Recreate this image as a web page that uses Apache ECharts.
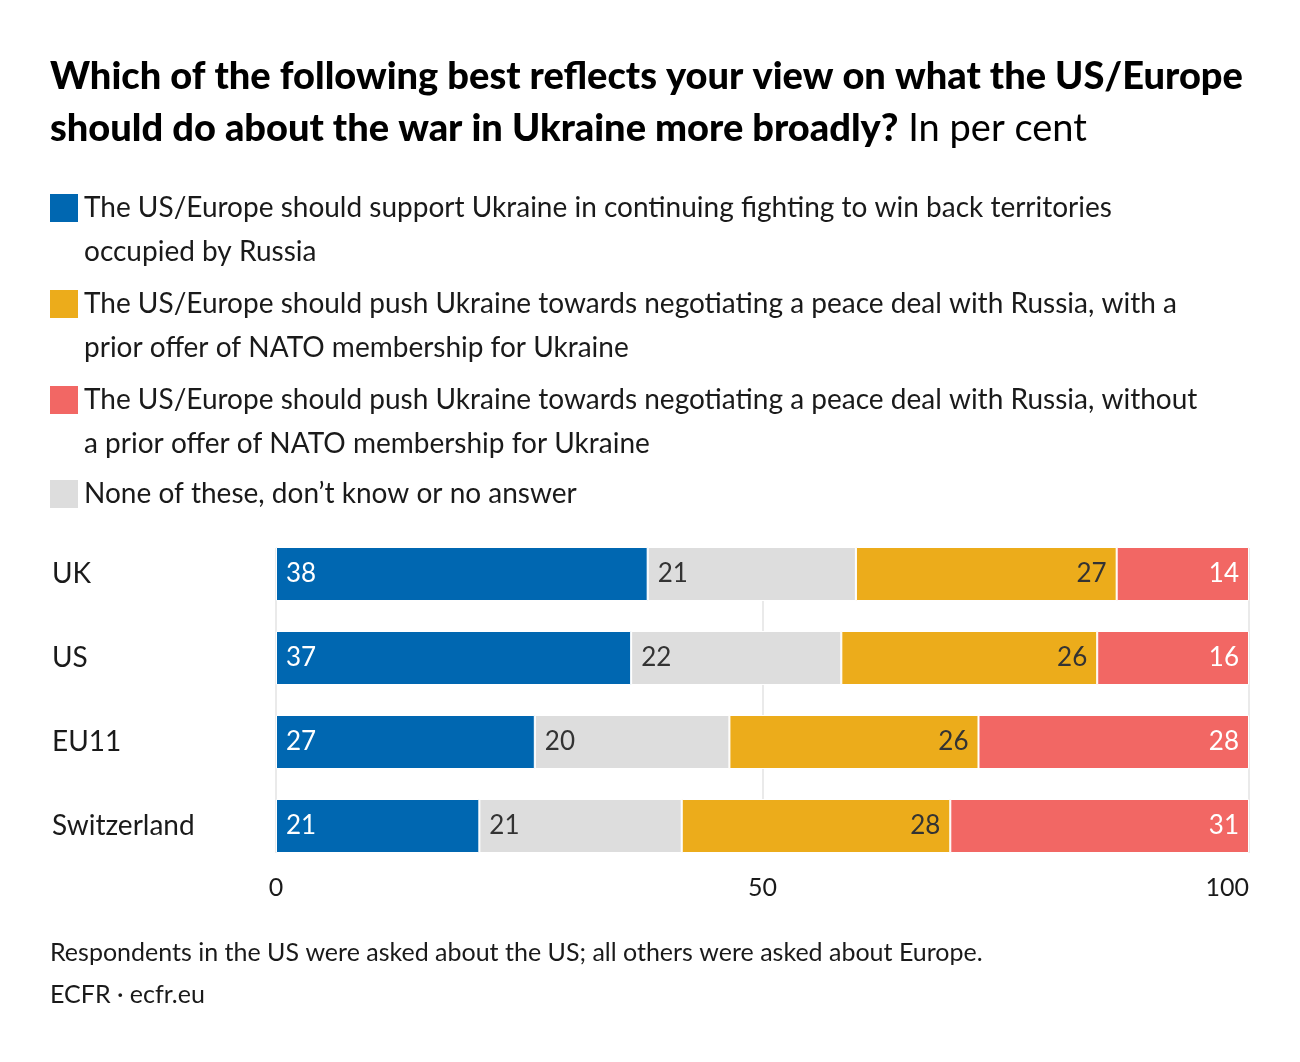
<!DOCTYPE html>
<html>
<head>
<meta charset="utf-8">
<script src="https://cdn.jsdelivr.net/npm/echarts@6/dist/echarts.min.js"></script>
<style>
  html, body { margin: 0; padding: 0; background: #fff; }
  #chart { width: 1300px; height: 1062px; }
</style>
</head>
<body>
<div id="chart"></div>
<script>
// ---- Data ----
const categories = ['UK', 'US', 'EU11', 'Switzerland'];
const seriesNames = [
  'The US/Europe should support Ukraine in continuing fighting to win back territories occupied by Russia',
  'None of these, don\u2019t know or no answer',
  'The US/Europe should push Ukraine towards negotiating a peace deal with Russia, with a prior offer of NATO membership for Ukraine',
  'The US/Europe should push Ukraine towards negotiating a peace deal with Russia, without a prior offer of NATO membership for Ukraine'
];
const supportUkraine = [38.2, 36.5, 26.6, 20.9];
const noneOfThese = [21.4, 21.6, 20.0, 20.8];
const peaceWithNato = [26.8, 26.3, 25.6, 27.6];
const peaceWithoutNato = [13.6, 15.6, 27.8, 30.7];
const xTicks = [0, 50, 100];

// legend lines (in display order)
const legendLines = [
  ['The US/Europe should support Ukraine in continuing fighting to win back territories', 'occupied by Russia'],
  ['The US/Europe should push Ukraine towards negotiating a peace deal with Russia, with a', 'prior offer of NATO membership for Ukraine'],
  ['The US/Europe should push Ukraine towards negotiating a peace deal with Russia, without', 'a prior offer of NATO membership for Ukraine'],
  ['None of these, don\u2019t know or no answer']
];

// ---- Styles ----
const FONT = 'Lato, "Noto Sans", sans-serif';
const COLORS = { blue: '#0067b1', grey: '#dddddd', yellow: '#ecac1b', red: '#f26764' };
const legendColors = [COLORS.blue, COLORS.yellow, COLORS.red, COLORS.grey];
const legendTops = [208, 304, 400, 494];
const TEXT = '#1a1a1a';

const chart = echarts.init(document.getElementById('chart'), null, { renderer: 'canvas' });

const fmt = p => String(Math.round(p.value));

function barSeries(name, data, color, pos, labelColor) {
  return {
    name: name,
    type: 'bar',
    stack: 'total',
    data: data,
    barWidth: 54,
    itemStyle: { color: color, borderColor: '#ffffff', borderWidth: 1 },
    label: {
      show: true,
      position: pos,
      distance: 10,
      formatter: fmt,
      color: labelColor,
      fontFamily: FONT,
      fontSize: 26
    },
    emphasis: { disabled: true }
  };
}

const graphics = [];
legendLines.forEach((lines, i) => {
  graphics.push({
    type: 'rect',
    left: 50,
    top: legendTops[i] - 14,
    shape: { width: 28, height: 28 },
    style: { fill: legendColors[i] }
  });
  lines.forEach((ln, j) => {
    graphics.push({
      type: 'text',
      left: 84,
      top: legendTops[i] + j * 44 - 14,
      style: { text: ln, font: '28px ' + FONT, fill: TEXT }
    });
  });
});
graphics.push({
  type: 'text', left: 50, top: 940,
  style: { text: 'Respondents in the US were asked about the US; all others were asked about Europe.', font: '25px ' + FONT, fill: TEXT }
});
graphics.push({
  type: 'text', left: 50, top: 982,
  style: { text: 'ECFR \u00b7 ecfr.eu', font: '25px ' + FONT, fill: TEXT }
});

const option = {
  backgroundColor: '#ffffff',
  animation: false,
  title: {
    left: 50,
    top: 51,
    padding: 0,
    text: '{b|Which of the following best reflects your view on what the US/Europe}\n{b|should do about the war in Ukraine more broadly?}{n| In per cent}',
    textStyle: {
      rich: {
        b: { fontFamily: FONT, fontWeight: 900, fontSize: 38, color: '#000', lineHeight: 52 },
        n: { fontFamily: FONT, fontWeight: 'normal', fontSize: 38, color: '#000', lineHeight: 52 }
      }
    }
  },
  graphic: graphics,
  grid: [
    { left: 276, right: 51, top: 532, height: 336, containLabel: false },
    { left: 276, right: 51, top: 548, height: 305, containLabel: false }
  ],
  xAxis: [
    {
      gridIndex: 0,
      type: 'value',
      min: 0, max: 100, interval: 50,
      axisLine: { show: false },
      axisTick: { show: false },
      splitLine: { show: false },
      axisLabel: {
        margin: 7,
        fontFamily: FONT, fontSize: 25, color: TEXT,
        alignMaxLabel: 'right',
        formatter: v => (xTicks.indexOf(v) >= 0 ? String(v) : '')
      }
    },
    {
      gridIndex: 1,
      type: 'value',
      min: 0, max: 100, interval: 50,
      axisLine: { show: false },
      axisTick: { show: false },
      axisLabel: { show: false },
      splitLine: { show: true, lineStyle: { color: '#e3e3e3', width: 1.5 } }
    }
  ],
  yAxis: [
    {
      gridIndex: 0,
      type: 'category',
      data: categories,
      inverse: true,
      axisLine: { show: false },
      axisTick: { show: false },
      axisLabel: {
        align: 'left',
        margin: 224,
        fontFamily: FONT, fontSize: 28, color: TEXT
      }
    },
    {
      gridIndex: 1,
      type: 'value',
      min: 0, max: 1,
      show: false
    }
  ],
  series: [
    barSeries(seriesNames[0], supportUkraine, COLORS.blue, 'insideLeft', '#ffffff'),
    barSeries(seriesNames[1], noneOfThese, COLORS.grey, 'insideLeft', '#333333'),
    barSeries(seriesNames[2], peaceWithNato, COLORS.yellow, 'insideRight', '#333333'),
    barSeries(seriesNames[3], peaceWithoutNato, COLORS.red, 'insideRight', '#ffffff')
  ]
};

chart.setOption(option);
</script>
</body>
</html>
